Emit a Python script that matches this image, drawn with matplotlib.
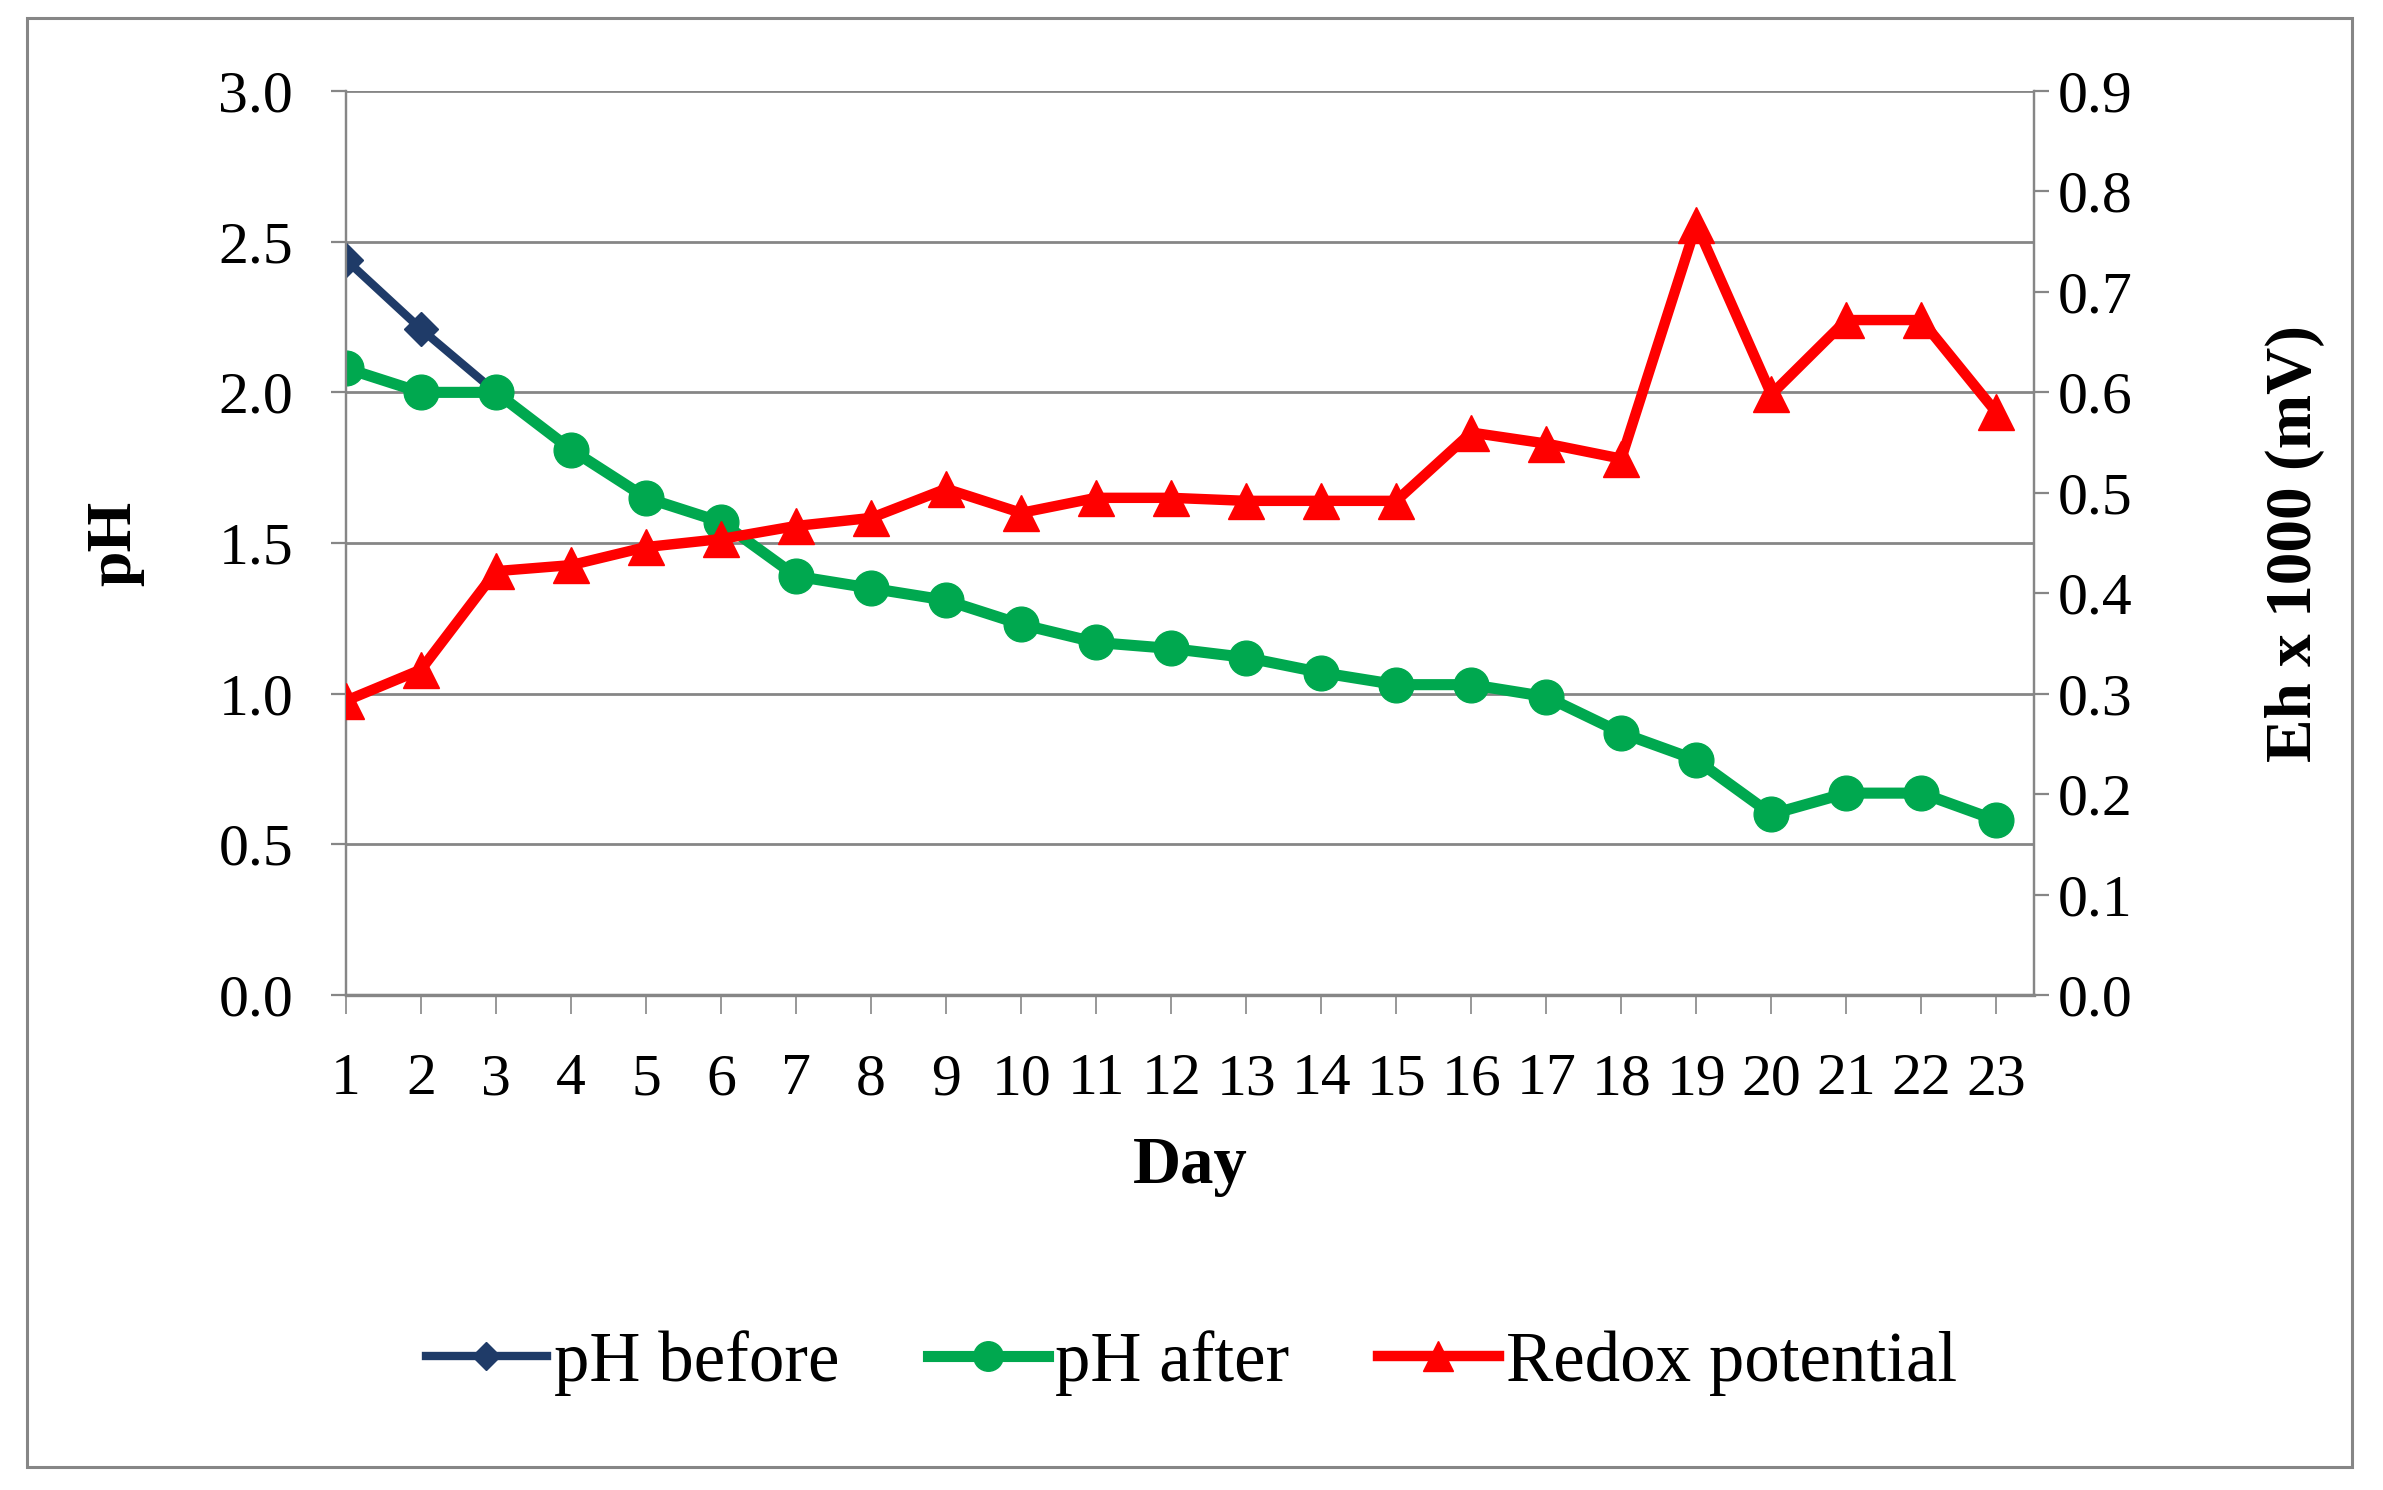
import matplotlib
matplotlib.use("Agg")
import matplotlib.pyplot as plt
from matplotlib.patches import Rectangle
from matplotlib.ticker import FormatStrFormatter, MultipleLocator

days = list(range(1, 24))
ph_before_days = [1, 2, 3]
ph_before = [2.44, 2.21, 2.00]
ph_after = [2.08, 2.00, 2.00, 1.81, 1.65, 1.57, 1.39, 1.35, 1.31, 1.23, 1.17, 1.15,
            1.12, 1.07, 1.03, 1.03, 0.99, 0.87, 0.78, 0.60, 0.67, 0.67, 0.58]
redox = [0.293, 0.324, 0.422, 0.428, 0.446, 0.454, 0.467, 0.475, 0.504, 0.480, 0.495, 0.495,
         0.492, 0.492, 0.492, 0.560, 0.549, 0.534, 0.767, 0.598, 0.672, 0.672, 0.580]

plt.rcParams['font.family'] = ['Liberation Serif', 'DejaVu Serif']
GREY = '#868686'
NAVY = '#1F3B68'
GREEN = '#00A84F'
RED = '#FF0000'

fig = plt.figure(figsize=(23.83, 14.90), dpi=100)
fig.patches.append(Rectangle((0.0115, 0.0153), 0.9755, 0.9727, transform=fig.transFigure,
                             fill=False, edgecolor=GREY, linewidth=2.2, zorder=0))

ax = fig.add_axes([0.1452, 0.3322, 0.7083, 0.6067])
ax2 = ax.twinx()

ax.set_xlim(1, 23.5)
ax.set_ylim(0, 3.0)
ax2.set_ylim(0, 0.9)

ax.yaxis.set_major_locator(MultipleLocator(0.5))
ax.yaxis.set_major_formatter(FormatStrFormatter('%.1f'))
ax2.yaxis.set_major_locator(MultipleLocator(0.1))
ax2.yaxis.set_major_formatter(FormatStrFormatter('%.1f'))
ax.set_xticks(days)
ax.set_xticklabels([str(d) for d in days])

ax.grid(axis='y', color=GREY, linewidth=2.0)
ax.set_axisbelow(True)

for a in (ax, ax2):
    a.spines['top'].set_visible(False)
    for s in ('left', 'right', 'bottom'):
        a.spines[s].set_color(GREY)
        a.spines[s].set_linewidth(1.6)
ax.spines['bottom'].set_linewidth(2.4)

ax.tick_params(axis='y', direction='out', length=11, width=1.6, color=GREY,
               labelsize=43, pad=27)
ax.tick_params(axis='x', direction='out', length=14, width=1.2, color=GREY,
               labelsize=43, pad=28)
ax2.tick_params(axis='y', direction='out', length=11, width=1.6, color=GREY,
                labelsize=43, pad=6)

l1, = ax.plot(ph_before_days, ph_before, color=NAVY, linewidth=6, marker='D',
              markersize=17, label='pH before', zorder=3)
l2, = ax.plot(days, ph_after, color=GREEN, linewidth=8, marker='o',
              markersize=25, label='pH after', zorder=4)
l3, = ax2.plot(days, redox, color=RED, linewidth=7.5, marker='^',
               markersize=26, label='Redox potential', zorder=4)

ax.set_ylabel('pH', fontsize=46, fontweight='bold')
ax.yaxis.set_label_coords(-0.1197, 0.5)
ax2.set_ylabel('Eh x 1000 (mV)', fontsize=47, fontweight='bold')
ax2.yaxis.set_label_coords(1.137, 0.5)
ax.set_xlabel('Day', fontsize=48, fontweight='bold')
ax.xaxis.set_label_coords(0.5, -0.19)
ax.xaxis.label.set_va('center')

fig.legend(handles=[l1, l2, l3], loc='center', bbox_to_anchor=(0.5, 0.085),
           ncol=3, frameon=False, fontsize=51, handlelength=1.7, handletextpad=0.1,
           columnspacing=1.25, markerscale=0.85)

fig.savefig('out.png', dpi=100)
